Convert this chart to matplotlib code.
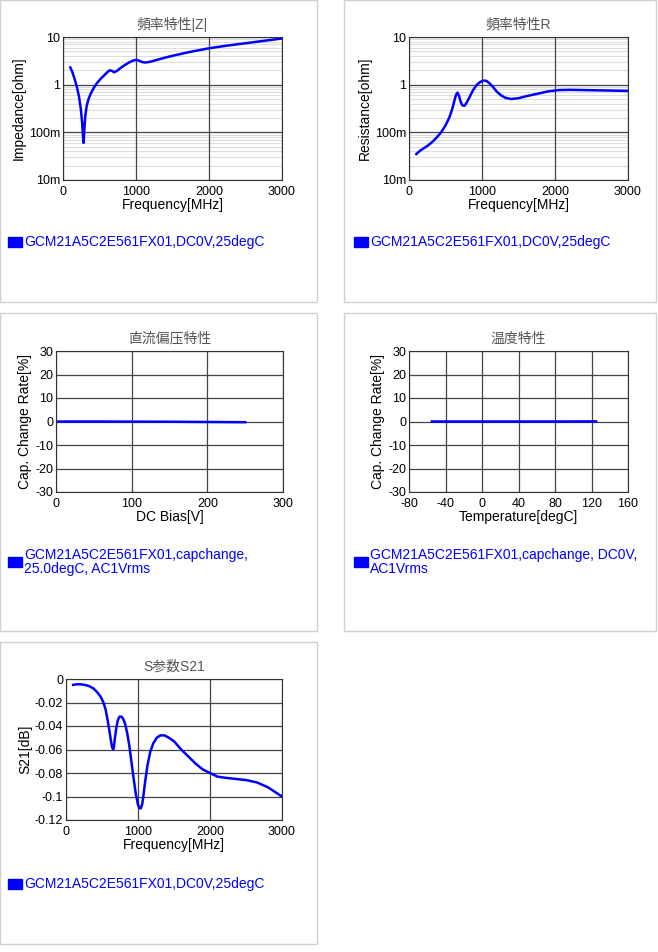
import matplotlib
matplotlib.use('Agg')
import matplotlib.pyplot as plt
from matplotlib.patches import Rectangle
from matplotlib.ticker import FixedLocator, NullFormatter

plt.rcParams['font.family'] = ['Liberation Sans', 'Noto Sans CJK JP']
plt.rcParams['axes.unicode_minus'] = False

# impedance |Z|
z_freq = [100, 130, 160, 190, 220, 245, 262, 275, 282, 290, 305, 325, 350, 380, 420, 470,
          520, 570, 610, 640, 670, 700, 740, 790, 850, 910, 960, 1000, 1040, 1080, 1120,
          1160, 1220, 1300, 1400, 1550, 1750, 2000, 2250, 2500, 2750, 3000]
z_val = [2.3, 1.8, 1.3, 0.9, 0.55, 0.3, 0.16, 0.08, 0.06, 0.1, 0.22, 0.36, 0.5, 0.65,
         0.85, 1.1, 1.35, 1.6, 1.85, 2.0, 1.95, 1.82, 1.95, 2.25, 2.6, 2.95, 3.2, 3.3,
         3.2, 3.0, 2.92, 2.95, 3.1, 3.35, 3.7, 4.2, 4.9, 5.8, 6.6, 7.4, 8.3, 9.3]
# resistance R
r_freq = [100, 150, 200, 260, 320, 380, 440, 500, 550, 590, 620, 645, 665, 685, 705,
          730, 760, 790, 830, 880, 930, 980, 1020, 1060, 1100, 1150, 1200, 1260, 1320,
          1400, 1500, 1600, 1750, 1900, 2050, 2200, 2400, 2600, 2800, 3000]
r_val = [0.035, 0.041, 0.046, 0.053, 0.063, 0.078, 0.1, 0.14, 0.2, 0.3, 0.45, 0.62,
         0.68, 0.58, 0.45, 0.37, 0.36, 0.42, 0.55, 0.78, 1.0, 1.15, 1.22, 1.2, 1.08,
         0.9, 0.72, 0.6, 0.53, 0.5, 0.52, 0.57, 0.64, 0.72, 0.77, 0.78, 0.77, 0.76,
         0.75, 0.74]
# DC bias cap change
dc_bias = [0, 50, 100, 150, 200, 250]
dc_change = [0.0, 0.0, -0.05, -0.1, -0.2, -0.3]
# temperature cap change
temp = [-55, -25, 0, 25, 50, 85, 125]
temp_change = [0.0, 0.0, 0.0, 0.0, 0.0, 0.0, 0.05]
# S21
s_freq = [100, 150, 200, 260, 320, 380, 430, 480, 520, 550, 575, 600, 620, 640, 655,
          665, 680, 700, 720, 745, 770, 795, 820, 850, 880, 910, 940, 970, 1000, 1020,
          1040, 1060, 1080, 1100, 1130, 1170, 1210, 1260, 1310, 1370, 1430, 1500, 1600,
          1700, 1800, 1900, 2000, 2100, 2200, 2350, 2500, 2650, 2800, 2900, 3000]
s_val = [-0.005, -0.0045, -0.0045, -0.005, -0.006, -0.008, -0.011, -0.015, -0.02,
         -0.026, -0.034, -0.043, -0.051, -0.058, -0.06, -0.058, -0.05, -0.041, -0.035,
         -0.032, -0.032, -0.034, -0.038, -0.046, -0.057, -0.071, -0.085, -0.098, -0.107,
         -0.11, -0.11, -0.106, -0.097, -0.087, -0.074, -0.062, -0.055, -0.05, -0.048,
         -0.048, -0.05, -0.053, -0.06, -0.066, -0.072, -0.077, -0.08, -0.083, -0.084,
         -0.085, -0.086, -0.088, -0.092, -0.096, -0.1]

LEG1 = 'GCM21A5C2E561FX01,DC0V,25degC'
LEG_DC = 'GCM21A5C2E561FX01,capchange,\n25.0degC, AC1Vrms'
LEG_T = 'GCM21A5C2E561FX01,capchange, DC0V,\nAC1Vrms'

W, H = 658, 952
fig = plt.figure(figsize=(W / 100, H / 100), dpi=100)


def box(x0, y0, x1, y1):
    fig.patches.append(Rectangle((x0 / W, 1 - y1 / H), (x1 - x0) / W, (y1 - y0) / H,
                                 transform=fig.transFigure, fill=False, ec='#d0d0d0', lw=1))


def axes(l, t, r, b):
    return fig.add_axes([l / W, 1 - b / H, (r - l) / W, (b - t) / H])


def style(ax, title, xlabel, ylabel):
    ax.set_title(title, fontsize=10, color='#555555', pad=6)
    ax.set_xlabel(xlabel, fontsize=10, labelpad=0)
    ax.set_ylabel(ylabel, fontsize=10, labelpad=2)
    ax.tick_params(labelsize=9, length=0, pad=2)
    ax.tick_params(axis='x', pad=4)
    ax.grid(True, which='major', axis='y', color='#444444', lw=0.9)
    for t in ax.get_xticks():
        ax.axvline(t, color='#444444', lw=0.9, zorder=2)
    for s in ax.spines.values():
        s.set_color('#333333')
        s.set_zorder(4)


def legend(x, y, text):
    fig.patches.append(Rectangle((x / W, 1 - (y + 5) / H), 14 / W, 10 / H,
                                 transform=fig.transFigure, color='#0000ff'))
    fig.text((x + 16) / W, 1 - y / H, text, color='#0000ff', fontsize=10,
             va='center', linespacing=1.0)


def log_axes(ax):
    ax.set_yscale('log')
    ax.set_ylim(0.01, 10)
    ax.set_xlim(0, 3000)
    ax.set_xticks([0, 1000, 2000, 3000])
    ax.set_yticks([0.01, 0.1, 1, 10])
    ax.set_yticklabels(['10m', '100m', '1', '10'])
    ax.yaxis.set_minor_locator(FixedLocator([m * d for d in (0.01, 0.1, 1) for m in range(2, 10)]))
    ax.yaxis.set_minor_formatter(NullFormatter())
    ax.grid(True, which='minor', axis='y', color='#dddddd', lw=0.8)
    ax.tick_params(which='minor', length=0)


def curve(ax, x, y):
    ax.plot(x, y, color='#0000ff', lw=1.8, solid_joinstyle='round', zorder=3)


box(0, 0, 317, 302)
box(344, 0, 656, 302)
box(0, 313, 317, 631)
box(344, 313, 656, 631)
box(0, 642, 317, 944)

ax = axes(63, 37, 282, 180)
log_axes(ax)
curve(ax, z_freq, z_val)
style(ax, '頻率特性|Z|', 'Frequency[MHz]', 'Impedance[ohm]')
legend(8, 242, LEG1)

ax = axes(409, 37, 628, 180)
log_axes(ax)
curve(ax, r_freq, r_val)
style(ax, '頻率特性R', 'Frequency[MHz]', 'Resistance[ohm]')
legend(354, 242, LEG1)

ax = axes(56, 351, 283, 492)
curve(ax, dc_bias, dc_change)
ax.set_xlim(0, 300)
ax.set_ylim(-30, 30)
ax.set_xticks([0, 100, 200, 300])
ax.set_yticks(range(-30, 31, 10))
style(ax, '直流偏压特性', 'DC Bias[V]', 'Cap. Change Rate[%]')
legend(8, 562, LEG_DC)

ax = axes(409, 351, 628, 492)
curve(ax, temp, temp_change)
ax.set_xlim(-80, 160)
ax.set_ylim(-30, 30)
ax.set_xticks(range(-80, 161, 40))
ax.set_yticks(range(-30, 31, 10))
style(ax, '温度特性', 'Temperature[degC]', 'Cap. Change Rate[%]')
legend(354, 562, LEG_T)

ax = axes(66, 679, 282, 820)
curve(ax, s_freq, s_val)
ax.set_xlim(0, 3000)
ax.set_ylim(-0.12, 0)
ax.set_xticks([0, 1000, 2000, 3000])
ax.set_yticks([-0.12, -0.1, -0.08, -0.06, -0.04, -0.02, 0])
ax.set_yticklabels(['-0.12', '-0.1', '-0.08', '-0.06', '-0.04', '-0.02', '0'])
style(ax, 'S参数S21', 'Frequency[MHz]', 'S21[dB]')
legend(8, 884, LEG1)

fig.savefig('out.png', dpi=100)
